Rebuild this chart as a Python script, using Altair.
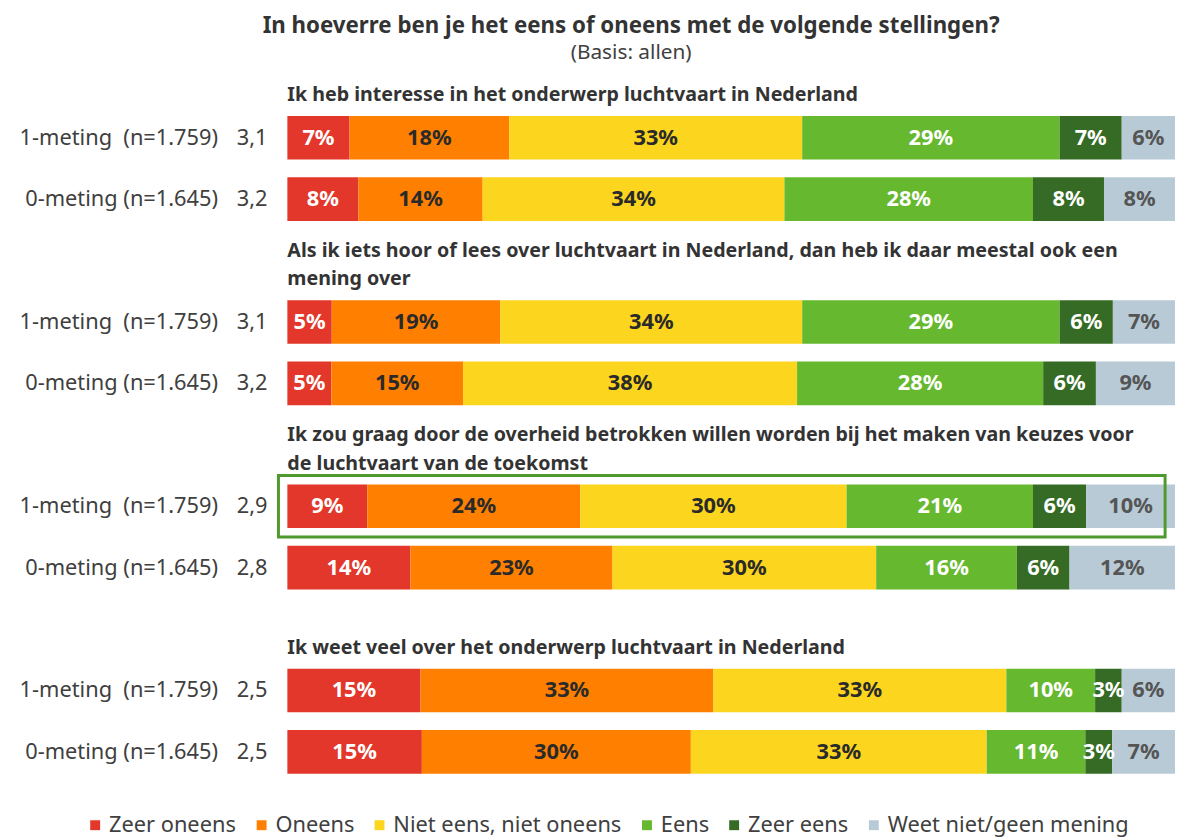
import altair as alt
import pandas as pd

FONT = "Noto Sans"

categories = ["Zeer oneens", "Oneens", "Niet eens, niet oneens", "Eens", "Zeer eens", "Weet niet/geen mening"]
bar_colors = ["#E2372A", "#FF8000", "#FBD51E", "#66B82E", "#356B24", "#B8CAD6"]
text_colors = ["#FFFFFF", "#2A2A2A", "#2A2A2A", "#FFFFFF", "#FFFFFF", "#555555"]

statements = [
    ["Ik heb interesse in het onderwerp luchtvaart in Nederland"],
    ["Als ik iets hoor of lees over luchtvaart in Nederland, dan heb ik daar meestal ook een", "mening over"],
    ["Ik zou graag door de overheid betrokken willen worden bij het maken van keuzes voor", "de luchtvaart van de toekomst"],
    ["Ik weet veel over het onderwerp luchtvaart in Nederland"],
]
wave_labels = ["1-meting\u00a0 (n=1.759)", "0-meting (n=1.645)"]
scores = [["3,1", "3,2"], ["3,1", "3,2"], ["2,9", "2,8"], ["2,5", "2,5"]]

s1_m1 = [7, 18, 33, 29, 7, 6]
s1_m0 = [8, 14, 34, 28, 8, 8]
s2_m1 = [5, 19, 34, 29, 6, 7]
s2_m0 = [5, 15, 38, 28, 6, 9]
s3_m1 = [9, 24, 30, 21, 6, 10]
s3_m0 = [14, 23, 30, 16, 6, 12]
s4_m1 = [15, 33, 33, 10, 3, 6]
s4_m0 = [15, 30, 33, 11, 3, 7]
series = [[s1_m1, s1_m0], [s2_m1, s2_m0], [s3_m1, s3_m0], [s4_m1, s4_m0]]

highlight_row = "s3_m1"

# build tables
row_order = []
heads, labels, segs = [], [], []
for i, (stmt, pair, sc) in enumerate(zip(statements, series, scores), start=1):
    h = f"h{i}"
    row_order.append(h)
    heads.append({"row": h, "last": stmt[-1], "prev": stmt[0] if len(stmt) > 1 else ""})
    for j, (vals, wl, s) in enumerate(zip(pair, wave_labels, sc)):
        r = f"s{i}_m{1 - j}"
        row_order.append(r)
        labels.append({"row": r, "label": wl, "score": s})
        total = sum(vals)
        cum = 0.0
        for k, (c, v) in enumerate(zip(categories, vals)):
            pct = v / total * 100
            segs.append({"row": r, "cat": c, "order": k, "value": v,
                         "start": cum, "end": cum + pct, "mid": cum + pct / 2,
                         "lab": f"{v}%"})
            cum += pct

seg_df = pd.DataFrame(segs)
head_df = pd.DataFrame(heads)
lab_df = pd.DataFrame(labels)
box_df = pd.DataFrame({"row": [highlight_row]})
title_df = pd.DataFrame({"t": ["In hoeverre ben je het eens of oneens met de volgende stellingen?"]})
sub_df = pd.DataFrame({"t": ["(Basis: allen)"]})

yscale = alt.Scale(domain=row_order, paddingInner=0, paddingOuter=0)
Y = alt.Y("row:N", scale=yscale, axis=None)
xscale = alt.Scale(domain=[0, 100], nice=False, zero=True)

bars = alt.Chart(seg_df).mark_bar(size=44).encode(
    y=Y,
    x=alt.X("start:Q", scale=xscale, axis=None),
    x2="end:Q",
    color=alt.Color("cat:N", scale=alt.Scale(domain=categories, range=bar_colors),
                    sort=categories,
                    legend=alt.Legend(orient="none", legendX=-205, legendY=776,
                                      direction="horizontal", title=None,
                                      symbolType="square", symbolSize=100,
                                      symbolStrokeWidth=0, labelFontSize=22,
                                      labelFont=FONT, labelColor="#404040",
                                      labelLimit=500,
                                      columnPadding=14, labelOffset=3)),
    order="order:Q",
)

seg_text = alt.Chart(seg_df).mark_text(fontSize=22, fontWeight="bold", font=FONT).encode(
    y=Y,
    x=alt.X("mid:Q", scale=xscale, axis=None),
    text="lab:N",
    color=alt.Color("cat:N", scale=alt.Scale(domain=categories, range=text_colors), legend=None),
)

head_last = alt.Chart(head_df).mark_text(
    align="left", baseline="bottom", dy=29,
    fontSize=19.8, fontWeight="bold", font=FONT, color="#333333"
).encode(y=Y, x=alt.value(0), text="last:N")

head_prev = alt.Chart(head_df).mark_text(
    align="left", baseline="bottom", dy=0,
    fontSize=19.8, fontWeight="bold", font=FONT, color="#333333"
).encode(y=Y, x=alt.value(0), text="prev:N")

wave_text = alt.Chart(lab_df).mark_text(
    align="right", baseline="middle", fontSize=22, font=FONT, color="#404040"
).encode(y=Y, x=alt.value(-70), text="label:N")

score_text = alt.Chart(lab_df).mark_text(
    align="right", baseline="middle", fontSize=22, font=FONT, color="#404040"
).encode(y=Y, x=alt.value(-20), text="score:N")

box = alt.Chart(box_df).mark_rect(filled=False, stroke="#4E9A2E", strokeWidth=3).encode(
    y=Y, x=alt.value(-9), x2=alt.value(886)
)

title = alt.Chart(title_df).mark_text(
    align="center", baseline="middle", fontSize=22.5, fontWeight="bold", font=FONT, color="#333333"
).encode(x=alt.value(347), y=alt.value(-20), text="t:N")

subtitle = alt.Chart(sub_df).mark_text(
    align="center", baseline="middle", fontSize=21, font=FONT, color="#404040"
).encode(x=alt.value(347), y=alt.value(8), text="t:N")

chart = alt.layer(bars, seg_text, head_last, head_prev, wave_text, score_text, box, title, subtitle).resolve_scale(
    color="independent"
).properties(
    width=896, height=744,
    padding={"left": 282, "top": 34, "right": 0, "bottom": 52},
    autosize=alt.AutoSizeParams(type="none"),
).configure_view(stroke=None)

chart.save("out.html", embed_options={"renderer": "svg", "actions": False})
